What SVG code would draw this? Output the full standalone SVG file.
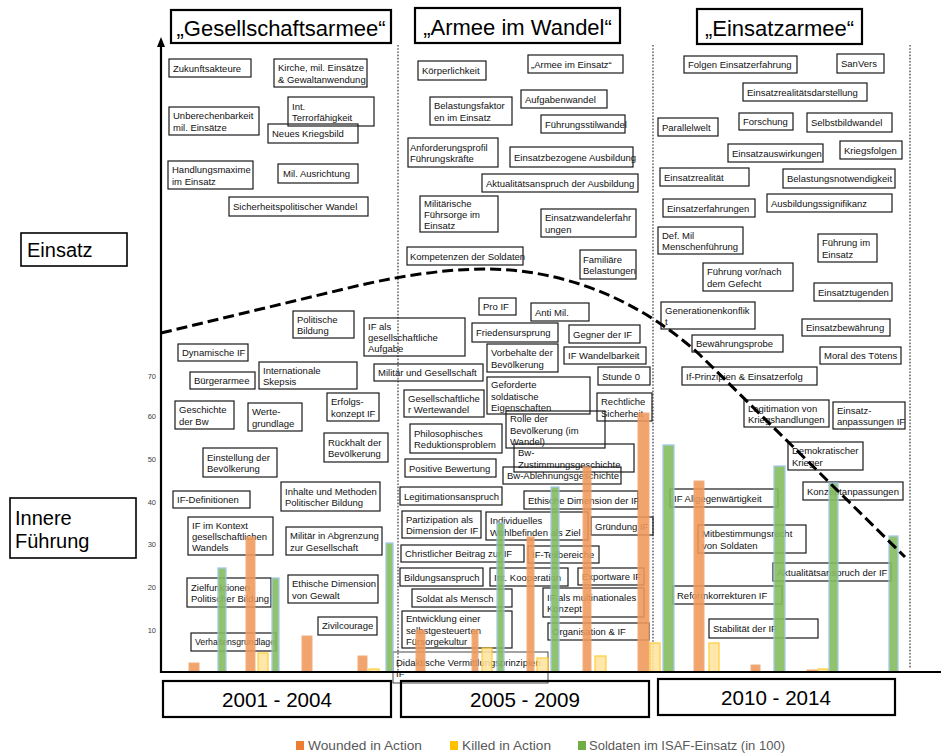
<svg xmlns="http://www.w3.org/2000/svg" width="943" height="756" viewBox="0 0 943 756">
<defs>
<marker id="arrow" markerWidth="8" markerHeight="10" refX="4" refY="9" orient="0" markerUnits="userSpaceOnUse"><path d="M0,10 L4,0 L8,10 Z" fill="#000"/></marker>
<style>
.box{fill:none;stroke:#1a1a1a;stroke-width:1.2}
.t{font-family:"Liberation Sans",Arial,sans-serif;font-size:9.5px;fill:#111}
.title rect{fill:none;stroke:#000;stroke-width:2.2}
.title text{font-family:"Liberation Sans",Arial,sans-serif;font-size:22px;fill:#000;text-anchor:middle}
.year rect{fill:none;stroke:#000;stroke-width:2.2}
.year text{font-family:"Liberation Sans",Arial,sans-serif;font-size:21px;fill:#000;text-anchor:middle}
.side rect{fill:none;stroke:#000;stroke-width:1.6}
.side text{font-family:"Liberation Sans",Arial,sans-serif;font-size:20px;fill:#000}
.tick{font-family:"Liberation Sans",Arial,sans-serif;font-size:7.5px;fill:#404040;text-anchor:end}
.sep{stroke:#7a7a7a;stroke-width:1.8;stroke-dasharray:1.6 1.6;fill:none}
.o{fill:#F0995A;stroke:#EFA36F;stroke-width:1;opacity:0.88}
.y{fill:#FFE3A0;stroke:#FFC61A;stroke-width:1.2;opacity:0.88}
.g{fill:#86BC5E;stroke:#9CC3E8;stroke-width:1.3;opacity:0.9}
.leg{font-family:"Liberation Sans",Arial,sans-serif;font-size:12.5px;fill:#595959}
</style>
</defs>
<rect x="0" y="0" width="943" height="756" fill="#fff"/>

<!-- separators -->
<g id="separators">
<line class="sep" x1="398" y1="45" x2="398" y2="672"/>
<line class="sep" x1="653" y1="45" x2="653" y2="672"/>
<line class="sep" x1="910" y1="45" x2="910" y2="668"/>
</g>

<!-- titles -->
<g id="title1" class="title"><rect x="171" y="10" width="220" height="33"/><text x="281" y="35.5">„Gesellschaftsarmee“</text></g>
<g id="title2" class="title"><rect x="415" y="8" width="205" height="35"/><text x="517.5" y="35">„Armee im Wandel“</text></g>
<g id="title3" class="title"><rect x="697" y="9" width="165" height="35"/><text x="779.5" y="35.5">„Einsatzarmee“</text></g>

<!-- side labels -->
<g id="label-einsatz" class="side"><rect x="21" y="233" width="106" height="33"/><text x="27" y="257">Einsatz</text></g>
<g id="label-if" class="side"><rect x="10" y="498" width="126" height="60"/><text x="15" y="525">Innere</text><text x="15" y="548">Führung</text></g>

<!-- tick labels -->
<g id="ticks">
<text class="tick" x="156" y="379">70</text>
<text class="tick" x="156" y="419">60</text>
<text class="tick" x="156" y="462">50</text>
<text class="tick" x="156" y="505">40</text>
<text class="tick" x="156" y="547">30</text>
<text class="tick" x="156" y="590">20</text>
<text class="tick" x="156" y="633">10</text>
</g>

<!-- column 1 nodes -->
<g id="n-zukunft"><rect class="box" x="169" y="59" width="82" height="18"/><text class="t" x="173" y="71.5">Zukunftsakteure</text></g>
<g id="n-kirche"><rect class="box" x="274" y="59" width="93" height="28"/><text class="t" x="278" y="71.4">Kirche, mil. Einsätze</text><text class="t" x="278" y="82.6">&amp; Gewaltanwendung</text></g>
<g id="n-unberechenbar"><rect class="box" x="169" y="107" width="90" height="28"/><text class="t" x="173" y="119.4">Unberechenbarkeit</text><text class="t" x="173" y="130.6">mil. Einsätze</text></g>
<g id="n-terror"><rect class="box" x="288" y="97" width="86" height="29"/><text class="t" x="292" y="109.9">Int.</text><text class="t" x="292" y="121.1">Terrorfähigkeit</text></g>
<g id="n-kriegsbild"><rect class="box" x="268" y="124" width="90" height="19"/><text class="t" x="272" y="137">Neues Kriegsbild</text></g>
<g id="n-handlungsmaxime"><rect class="box" x="168" y="161" width="85" height="28"/><text class="t" x="172" y="173.4">Handlungsmaxime</text><text class="t" x="172" y="184.6">im Einsatz</text></g>
<g id="n-ausrichtung"><rect class="box" x="278" y="164" width="80" height="19"/><text class="t" x="283" y="177">Mil. Ausrichtung</text></g>
<g id="n-sicherheitspol"><rect class="box" x="229" y="197" width="139" height="19"/><text class="t" x="233" y="210">Sicherheitspolitischer Wandel</text></g>
<g id="n-polbildung"><rect class="box" x="293" y="311" width="61" height="27"/><text class="t" x="297" y="322.9">Politische</text><text class="t" x="297" y="334.1">Bildung</text></g>
<g id="n-ifaufgabe"><rect class="box" x="364" y="318" width="101" height="38"/><text class="t" x="368" y="329.8">IF als</text><text class="t" x="368" y="341">gesellschaftliche</text><text class="t" x="368" y="352.2">Aufgabe</text></g>
<g id="n-dynamisch"><rect class="box" x="178" y="344" width="70" height="17"/><text class="t" x="182" y="356">Dynamische IF</text></g>
<g id="n-buergerarmee"><rect class="box" x="190" y="372" width="65" height="17"/><text class="t" x="194" y="384">Bürgerarmee</text></g>
<g id="n-intskepsis"><rect class="box" x="259" y="362" width="98" height="27"/><text class="t" x="263" y="373.9">Internationale</text><text class="t" x="263" y="385.1">Skepsis</text></g>
<g id="n-militaerges"><rect class="box" x="374" y="364" width="109" height="17"/><text class="t" x="378" y="376">Militär und Gesellschaft</text></g>
<g id="n-erfolgskonzept"><rect class="box" x="327" y="393" width="52" height="28"/><text class="t" x="331" y="405.4">Erfolgs-</text><text class="t" x="331" y="416.6">konzept IF</text></g>
<g id="n-geschichte"><rect class="box" x="175" y="401" width="59" height="28"/><text class="t" x="179" y="413.4">Geschichte</text><text class="t" x="179" y="424.6">der Bw</text></g>
<g id="n-wertegrundlage"><rect class="box" x="248" y="403" width="54" height="28"/><text class="t" x="252" y="415.4">Werte-</text><text class="t" x="252" y="426.6">grundlage</text></g>
<g id="n-rueckhalt"><rect class="box" x="324" y="433" width="64" height="29"/><text class="t" x="328" y="445.9">Rückhalt der</text><text class="t" x="328" y="457.1">Bevölkerung</text></g>
<g id="n-einstellung"><rect class="box" x="203" y="448" width="74" height="29"/><text class="t" x="207" y="460.9">Einstellung der</text><text class="t" x="207" y="472.1">Bevölkerung</text></g>
<g id="n-inhalte"><rect class="box" x="281" y="482" width="99" height="29"/><text class="t" x="285" y="494.9">Inhalte und Methoden</text><text class="t" x="285" y="506.1">Politischer Bildung</text></g>
<g id="n-ifdef"><rect class="box" x="173" y="491" width="77" height="17"/><text class="t" x="177" y="503">IF-Definitionen</text></g>
<g id="n-ifkontext"><rect class="box" x="188" y="517" width="85" height="38"/><text class="t" x="192" y="528.8">IF im Kontext</text><text class="t" x="192" y="540">gesellschaftlichen</text><text class="t" x="192" y="551.2">Wandels</text></g>
<g id="n-abgrenzung"><rect class="box" x="286" y="527" width="96" height="28"/><text class="t" x="290" y="539.4">Militär in Abgrenzung</text><text class="t" x="290" y="550.6">zur Gesellschaft</text></g>
<g id="n-zielfunktionen"><rect class="box" x="187" y="578" width="84" height="29"/><text class="t" x="191" y="590.9">Zielfunktionen</text><text class="t" x="191" y="602.1">Politischer Bildung</text></g>
<g id="n-ethischgewalt"><rect class="box" x="288" y="575" width="90" height="28"/><text class="t" x="292" y="587.4">Ethische Dimension</text><text class="t" x="292" y="598.6">von Gewalt</text></g>
<g id="n-zivilcourage"><rect class="box" x="318" y="617" width="59" height="18"/><text class="t" x="322" y="629">Zivilcourage</text></g>
<g id="n-verhaltensgrundlage"><rect class="box" x="191" y="633" width="85" height="18"/><text class="t" x="195" y="645" textLength="80" lengthAdjust="spacingAndGlyphs">Verhaltensgrundlage</text></g>

<!-- column 2 nodes -->
<g id="n-koerperlichkeit"><rect class="box" x="418" y="61" width="68" height="19"/><text class="t" x="422" y="74">Körperlichkeit</text></g>
<g id="n-armeeeinsatz"><rect class="box" x="528" y="55" width="95" height="18"/><text class="t" x="531" y="67.5">„Armee im Einsatz“</text></g>
<g id="n-belastungsfaktor"><rect class="box" x="430" y="97" width="82" height="28"/><text class="t" x="434" y="109.4">Belastungsfaktor</text><text class="t" x="434" y="120.6">en im Einsatz</text></g>
<g id="n-aufgabenwandel"><rect class="box" x="521" y="90" width="86" height="18"/><text class="t" x="525" y="102.5">Aufgabenwandel</text></g>
<g id="n-fuehrungsstil"><rect class="box" x="541" y="115" width="84" height="18"/><text class="t" x="545" y="127.5">Führungsstilwandel</text></g>
<g id="n-anforderungsprofil"><rect class="box" x="408" y="138" width="90" height="29"/><text class="t" x="410" y="150.9">Anforderungsprofil</text><text class="t" x="410" y="162.1">Führungskräfte</text></g>
<g id="n-einsatzbezogen"><rect class="box" x="510" y="147" width="123" height="20"/><text class="t" x="514" y="160.5">Einsatzbezogene Ausbildung</text></g>
<g id="n-aktualitaetausb"><rect class="box" x="482" y="174" width="156" height="18"/><text class="t" x="486" y="186.5">Aktualitätsanspruch der Ausbildung</text></g>
<g id="n-fuehrsorge"><rect class="box" x="420" y="196" width="78" height="36"/><text class="t" x="424" y="206.8">Militärische</text><text class="t" x="424" y="218">Führsorge im</text><text class="t" x="424" y="229.2">Einsatz</text></g>
<g id="n-einsatzwandel"><rect class="box" x="541" y="209" width="95" height="28"/><text class="t" x="545" y="221.4">Einsatzwandelerfahr</text><text class="t" x="545" y="232.6">ungen</text></g>
<g id="n-kompetenzen"><rect class="box" x="407" y="247" width="116" height="18"/><text class="t" x="410" y="259.5">Kompetenzen der Soldaten</text></g>
<g id="n-familiaer"><rect class="box" x="580" y="250" width="56" height="29"/><text class="t" x="583" y="262.9">Familiäre</text><text class="t" x="583" y="274.1">Belastungen</text></g>
<g id="n-proif"><rect class="box" x="479" y="298" width="37" height="17"/><text class="t" x="483" y="310">Pro IF</text></g>
<g id="n-antimil"><rect class="box" x="531" y="303" width="58" height="18"/><text class="t" x="535" y="315.5">Anti Mil.</text></g>
<g id="n-friedensursprung"><rect class="box" x="472" y="323" width="86" height="19"/><text class="t" x="476" y="336">Friedensursprung</text></g>
<g id="n-gegner"><rect class="box" x="569" y="325" width="71" height="18"/><text class="t" x="573" y="337.5">Gegner der IF</text></g>
<g id="n-vorbehalte"><rect class="box" x="487" y="344" width="71" height="28"/><text class="t" x="491" y="356.4">Vorbehalte der</text><text class="t" x="491" y="367.6">Bevölkerung</text></g>
<g id="n-wandelbarkeit"><rect class="box" x="564" y="347" width="82" height="17"/><text class="t" x="568" y="359">IF Wandelbarkeit</text></g>
<g id="n-stunde0"><rect class="box" x="598" y="367" width="52" height="18"/><text class="t" x="602" y="379.5">Stunde 0</text></g>
<g id="n-geforderte"><rect class="box" x="487" y="377" width="103" height="37"/><text class="t" x="491" y="388.3">Geforderte</text><text class="t" x="491" y="399.5">soldatische</text><text class="t" x="491" y="410.7">Eigenschaften</text></g>
<g id="n-wertewandel"><rect class="box" x="404" y="390" width="80" height="27"/><text class="t" x="408" y="401.9">Gesellschaftliche</text><text class="t" x="408" y="413.1">r Wertewandel</text></g>
<g id="n-rechtliche"><rect class="box" x="597" y="393" width="55" height="28"/><text class="t" x="601" y="405.4">Rechtliche</text><text class="t" x="601" y="416.6">Sicherheit</text></g>
<g id="n-rolle"><rect class="box" x="506" y="411" width="99" height="37"/><text class="t" x="510" y="422.3">Rolle der</text><text class="t" x="510" y="433.5">Bevölkerung (im</text><text class="t" x="510" y="444.7">Wandel)</text></g>
<g id="n-philosophisch"><rect class="box" x="410" y="424" width="92" height="29"/><text class="t" x="414" y="436.9">Philosophisches</text><text class="t" x="414" y="448.1">Reduktionsproblem</text></g>
<g id="n-zustimmung"><rect class="box" x="514" y="444" width="120" height="28"/><text class="t" x="518" y="456.4">Bw-</text><text class="t" x="518" y="467.6">Zustimmungsgeschichte</text></g>
<g id="n-positiv"><rect class="box" x="405" y="459" width="91" height="18"/><text class="t" x="409" y="471.5">Positive Bewertung</text></g>
<g id="n-ablehnung"><rect class="box" x="503" y="467" width="118" height="17"/><text class="t" x="507" y="479">Bw-Ablehnungsgeschichte</text></g>
<g id="n-legitimationsanspruch"><rect class="box" x="400" y="487" width="102" height="18"/><text class="t" x="404" y="499.5">Legitimationsanspruch</text></g>
<g id="n-ethischif"><rect class="box" x="524" y="491" width="114" height="18"/><text class="t" x="528" y="503.5">Ethische Dimension der IF</text></g>
<g id="n-partizipation"><rect class="box" x="402" y="511" width="79" height="27"/><text class="t" x="406" y="522.9">Partizipation als</text><text class="t" x="406" y="534.1">Dimension der IF</text></g>
<g id="n-wohlbefinden"><rect class="box" x="486" y="512" width="102" height="28"/><text class="t" x="490" y="524.4">Individuelles</text><text class="t" x="490" y="535.6">Wohlbefinden als Ziel</text></g>
<g id="n-gruendung"><rect class="box" x="591" y="517" width="62" height="18"/><text class="t" x="595" y="529.5">Gründung IF</text></g>
<g id="n-christlich"><rect class="box" x="401" y="545" width="123" height="17"/><text class="t" x="405" y="557">Christlicher Beitrag zur IF</text></g>
<g id="n-teilbereiche"><rect class="box" x="528" y="546" width="71" height="17"/><text class="t" x="532" y="558">IF-Teilbereiche</text></g>
<g id="n-bildungsanspruch"><rect class="box" x="400" y="568" width="83" height="18"/><text class="t" x="404" y="580.5">Bildungsanspruch</text></g>
<g id="n-kooperation"><rect class="box" x="490" y="568" width="78" height="18"/><text class="t" x="494" y="580.5">Int. Kooperation</text></g>
<g id="n-exportware"><rect class="box" x="578" y="568" width="66" height="17"/><text class="t" x="582" y="580">Exportware IF</text></g>
<g id="n-soldatmensch"><rect class="box" x="412" y="589" width="100" height="18"/><text class="t" x="416" y="601.5">Soldat als Mensch</text></g>
<g id="n-multinational"><rect class="box" x="543" y="588" width="101" height="29"/><text class="t" x="547" y="600.9">IF als multinationales</text><text class="t" x="547" y="612.1">Konzept</text></g>
<g id="n-entwicklung"><rect class="box" x="402" y="611" width="110" height="37"/><text class="t" x="406" y="622.3">Entwicklung einer</text><text class="t" x="406" y="633.5">selbstgesteuerten</text><text class="t" x="406" y="644.7">Fürsorgekultur</text></g>
<g id="n-organisation"><rect class="box" x="548" y="623" width="101" height="17"/><text class="t" x="552" y="635">Organisation &amp; IF</text></g>
<g id="n-didaktisch"><rect x="393" y="652" width="155" height="31" fill="none" stroke="#333" stroke-width="0.9"/><text class="t" x="396" y="665.9">Didaktische Vermittlungsprinzipien</text><text class="t" x="396" y="677.1">IF</text></g>

<!-- column 3 nodes -->
<g id="n-folgen"><rect class="box" x="684" y="56" width="113" height="17"/><text class="t" x="688" y="68">Folgen Einsatzerfahrung</text></g>
<g id="n-sanvers"><rect class="box" x="837" y="54" width="47" height="19"/><text class="t" x="841" y="67">SanVers</text></g>
<g id="n-realitaetsdarst"><rect class="box" x="743" y="83" width="124" height="18"/><text class="t" x="747" y="95.5">Einsatzrealitätsdarstellung</text></g>
<g id="n-parallelwelt"><rect class="box" x="658" y="118" width="60" height="18"/><text class="t" x="662" y="130.5">Parallelwelt</text></g>
<g id="n-forschung"><rect class="box" x="739" y="113" width="54" height="17"/><text class="t" x="743" y="125">Forschung</text></g>
<g id="n-selbstbild"><rect class="box" x="807" y="113" width="85" height="19"/><text class="t" x="811" y="126">Selbstbildwandel</text></g>
<g id="n-auswirkungen"><rect class="box" x="728" y="144" width="95" height="18"/><text class="t" x="732" y="156.5">Einsatzauswirkungen</text></g>
<g id="n-kriegsfolgen"><rect class="box" x="840" y="141" width="62" height="18"/><text class="t" x="844" y="153.5">Kriegsfolgen</text></g>
<g id="n-einsatzrealitaet"><rect class="box" x="660" y="168" width="89" height="18"/><text class="t" x="664" y="180.5">Einsatzrealität</text></g>
<g id="n-belastungsnotw"><rect class="box" x="783" y="169" width="112" height="19"/><text class="t" x="787" y="182">Belastungsnotwendigkeit</text></g>
<g id="n-einsatzerfahrungen"><rect class="box" x="663" y="199" width="92" height="18"/><text class="t" x="667" y="211.5">Einsatzerfahrungen</text></g>
<g id="n-ausbildungssig"><rect class="box" x="767" y="194" width="125" height="18"/><text class="t" x="771" y="206.5">Ausbildungssignifikanz</text></g>
<g id="n-defmil"><rect class="box" x="658" y="227" width="85" height="27"/><text class="t" x="662" y="238.9">Def. Mil</text><text class="t" x="662" y="250.1">Menschenführung</text></g>
<g id="n-fuehrungeinsatz"><rect class="box" x="818" y="234" width="59" height="28"/><text class="t" x="822" y="246.4">Führung im</text><text class="t" x="822" y="257.6">Einsatz</text></g>
<g id="n-vornach"><rect class="box" x="703" y="263" width="90" height="28"/><text class="t" x="707" y="275.4">Führung vor/nach</text><text class="t" x="707" y="286.6">dem Gefecht</text></g>
<g id="n-tugenden"><rect class="box" x="814" y="283" width="78" height="18"/><text class="t" x="818" y="295.5">Einsatztugenden</text></g>
<g id="n-generationen"><rect class="box" x="661" y="302" width="94" height="27"/><text class="t" x="665" y="313.9">Generationenkonflik</text><text class="t" x="665" y="325.1">t</text></g>
<g id="n-bewaehrung"><rect class="box" x="802" y="319" width="88" height="17"/><text class="t" x="806" y="331">Einsatzbewährung</text></g>
<g id="n-bewaehrungsprobe"><rect class="box" x="692" y="335" width="91" height="17"/><text class="t" x="696" y="347">Bewährungsprobe</text></g>
<g id="n-moral"><rect class="box" x="820" y="347" width="81" height="17"/><text class="t" x="824" y="359">Moral des Tötens</text></g>
<g id="n-ifprinzipien"><rect class="box" x="682" y="367" width="135" height="18"/><text class="t" x="686" y="379.5">If-Prinzipien &amp; Einsatzerfolg</text></g>
<g id="n-legitimation"><rect class="box" x="744" y="400" width="85" height="27"/><text class="t" x="748" y="411.9">Legitimation von</text><text class="t" x="748" y="423.1">Kriegshandlungen</text></g>
<g id="n-anpassungen"><rect class="box" x="833" y="402" width="72" height="27"/><text class="t" x="837" y="413.9">Einsatz-</text><text class="t" x="837" y="425.1">anpassungen IF</text></g>
<g id="n-demokratisch"><rect class="box" x="788" y="442" width="75" height="28"/><text class="t" x="792" y="454.4">Demokratischer</text><text class="t" x="792" y="465.6">Krieger</text></g>
<g id="n-konzeptanp"><rect class="box" x="803" y="482" width="100" height="18"/><text class="t" x="807" y="494.5">Konzeptanpassungen</text></g>
<g id="n-allgegenwaertig"><rect class="box" x="670" y="489" width="108" height="18"/><text class="t" x="674" y="501.5">IF Allgegenwärtigkeit</text></g>
<g id="n-mitbestimmung"><rect class="box" x="698" y="525" width="108" height="28"/><text class="t" x="702" y="537.4">Mitbestimmungsrecht</text><text class="t" x="702" y="548.6">von Soldaten</text></g>
<g id="n-aktualitaetif"><rect class="box" x="773" y="563" width="118" height="18"/><text class="t" x="777" y="575.5">Aktualitätsanspruch der IF</text></g>
<g id="n-reform"><rect class="box" x="673" y="586" width="109" height="18"/><text class="t" x="677" y="598.5">Reformkorrekturen IF</text></g>
<g id="n-stabilitaet"><rect class="box" x="709" y="619" width="109" height="19"/><text class="t" x="713" y="632">Stabilität der IF</text></g>

<!-- bars -->
<g id="bars">
<rect class="o" x="189" y="663" width="10" height="9"/>
<rect class="g" x="218" y="568" width="8" height="104"/>
<rect class="o" x="246" y="537" width="9" height="135"/>
<rect class="y" x="258" y="653" width="10" height="19"/>
<rect class="g" x="272" y="578" width="7" height="94"/>
<rect class="o" x="302" y="636" width="10" height="36"/>
<rect class="o" x="358" y="656" width="9" height="16"/>
<rect class="y" x="369" y="669" width="10" height="3"/>
<rect class="g" x="386" y="543" width="7" height="129"/>
<rect class="o" x="416" y="630" width="9" height="42"/>
<rect class="o" x="472" y="630" width="6" height="42"/>
<rect class="y" x="482" y="648" width="10" height="24"/>
<rect class="g" x="497" y="523" width="7" height="149"/>
<rect class="o" x="527" y="537" width="7" height="135"/>
<rect class="y" x="537" y="658" width="11" height="14"/>
<rect class="g" x="551" y="487" width="8" height="185"/>
<rect class="o" x="583" y="467" width="8" height="205"/>
<rect class="y" x="595" y="656" width="11" height="16"/>
<rect class="o" x="638" y="413" width="11" height="259"/>
<rect class="y" x="650" y="643" width="10" height="29"/>
<rect class="g" x="663" y="445" width="11" height="227"/>
<rect class="o" x="694" y="481" width="10" height="191"/>
<rect class="y" x="709" y="643" width="10" height="29"/>
<rect class="o" x="751" y="665" width="9" height="7"/>
<rect class="g" x="774" y="466" width="11" height="206"/>
<rect class="o" x="807" y="670" width="10" height="2"/>
<rect class="y" x="818" y="669" width="10" height="3"/>
<rect class="g" x="829" y="483" width="9" height="189"/>
<rect class="g" x="889" y="536" width="9" height="136"/>
</g>

<!-- axes -->
<g id="axes">
<line x1="161" y1="673" x2="161" y2="46" stroke="#000" stroke-width="2.2" marker-end="url(#arrow)"/>
<line x1="160" y1="672" x2="941" y2="672" stroke="#000" stroke-width="2.2"/>
</g>

<!-- connectors -->
<g id="connectors">
<path d="M161,333 L340,290 C400,275 460,266 510,270 C580,276 645,305 700,355 L905,557" fill="none" stroke="#000" stroke-width="3" stroke-dasharray="11 5"/>
</g>

<!-- years -->
<g id="year1" class="year"><rect x="163" y="681" width="228" height="36"/><text x="277" y="707" textLength="110" lengthAdjust="spacingAndGlyphs">2001 - 2004</text></g>
<g id="year2" class="year"><rect x="401" y="681" width="248" height="36"/><text x="525" y="707" textLength="110" lengthAdjust="spacingAndGlyphs">2005 - 2009</text></g>
<g id="year3" class="year"><rect x="658" y="679" width="237" height="36"/><text x="776" y="705" textLength="110" lengthAdjust="spacingAndGlyphs">2010 - 2014</text></g>

<!-- legend -->
<g id="legend">
<rect x="296" y="741" width="8" height="9" fill="#ED7D31"/>
<text class="leg" x="308" y="750" textLength="114" lengthAdjust="spacingAndGlyphs">Wounded in Action</text>
<rect x="450" y="741" width="8" height="9" fill="#FFC000"/>
<text class="leg" x="462" y="750" textLength="89" lengthAdjust="spacingAndGlyphs">Killed in Action</text>
<rect x="578" y="741" width="8" height="9" fill="#70AD47"/>
<text class="leg" x="589" y="750" textLength="196" lengthAdjust="spacingAndGlyphs">Soldaten im ISAF-Einsatz (in 100)</text>
</g>
</svg>
